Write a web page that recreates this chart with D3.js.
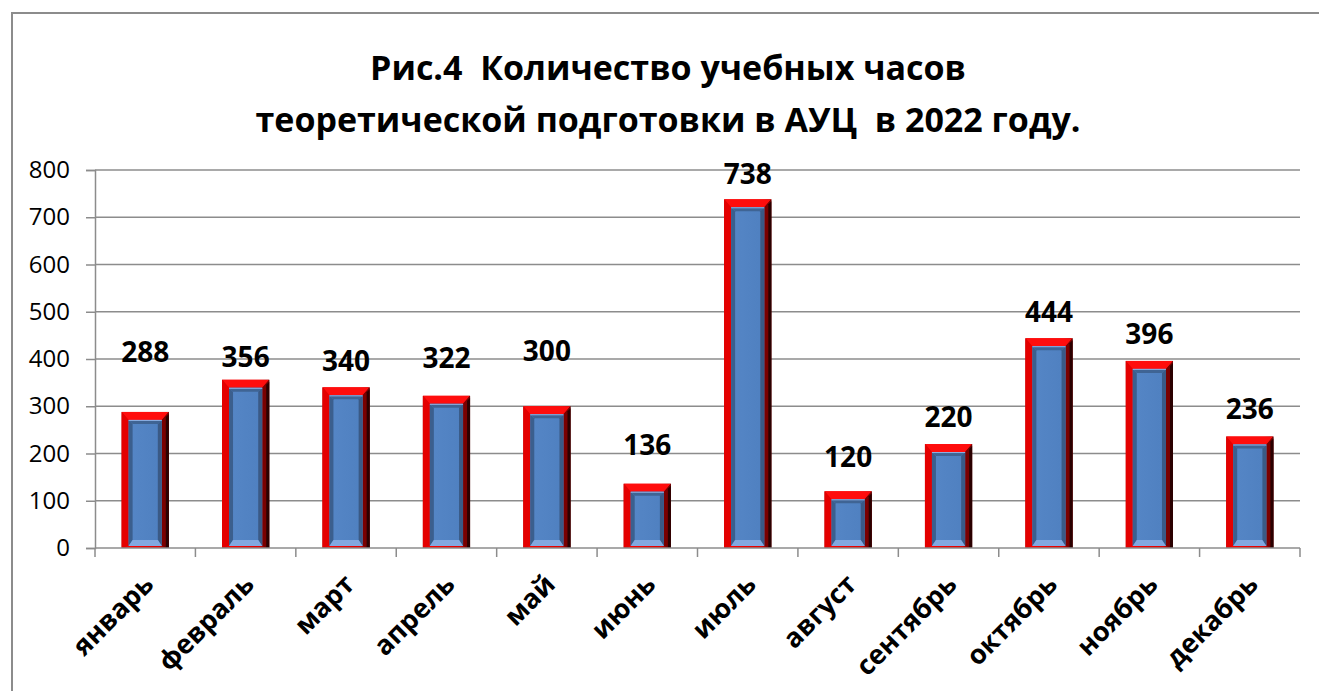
<!DOCTYPE html>
<html>
<head>
<meta charset="utf-8">
<script src="https://cdn.jsdelivr.net/npm/d3@7"></script>
<style>
  body { margin: 0; background: #fff; }
  text { font-family: "Open Sans", "Liberation Sans", sans-serif; white-space: pre; }
</style>
</head>
<body>
<div id="chart"></div>
<script>
const width = 1319, height = 691;

// data
const months = ["январь", "февраль", "март", "апрель", "май", "июнь",
  "июль", "август", "сентябрь", "октябрь", "ноябрь", "декабрь"];
const hours = [288, 356, 340, 322, 300, 136, 738, 120, 220, 444, 396, 236];
const yTicks = [0, 100, 200, 300, 400, 500, 600, 700, 800];
const titleLines = ["Рис.4  Количество учебных часов", "теоретической подготовки в АУЦ  в 2022 году."];

// how far each value label sits above its bar (px), labels were moved by hand in the original
const labelLift = [60, 23, 26, 38, 55, 39, 25, 34, 27, 26, 27, 27];

const plot = { left: 95, right: 1300, top: 170, bottom: 548 };

const svg = d3.select("#chart").append("svg")
  .attr("width", width)
  .attr("height", height);

const defs = svg.append("defs");

const redGrad = defs.append("linearGradient").attr("id", "redSide")
  .attr("x1", 0).attr("x2", 1).attr("y1", 0).attr("y2", 0);
redGrad.append("stop").attr("offset", "0%").attr("stop-color", "#b00000");
redGrad.append("stop").attr("offset", "12%").attr("stop-color", "#ff0000");
redGrad.append("stop").attr("offset", "80%").attr("stop-color", "#e00000");
redGrad.append("stop").attr("offset", "88%").attr("stop-color", "#a00000");
redGrad.append("stop").attr("offset", "100%").attr("stop-color", "#2a0000");

const blueGrad = defs.append("linearGradient").attr("id", "blueFace")
  .attr("x1", 0).attr("x2", 1).attr("y1", 0).attr("y2", 0);
blueGrad.append("stop").attr("offset", "0%").attr("stop-color", "#5586c6");
blueGrad.append("stop").attr("offset", "100%").attr("stop-color", "#4f80c0");

// outer frame of the chart
svg.append("rect")
  .attr("x", 12).attr("y", 13)
  .attr("width", 1320).attr("height", 700)
  .attr("fill", "none")
  .attr("stroke", "#8c8c8c")
  .attr("stroke-width", 2);

// title
svg.append("g").selectAll("text")
  .data(titleLines)
  .join("text")
  .attr("x", 668)
  .attr("y", (d, i) => 80 + i * 52)
  .attr("text-anchor", "middle")
  .attr("font-size", 34)
  .attr("font-weight", "bold")
  .attr("fill", "#000")
  .text(d => d);

// scales
const x = d3.scaleBand()
  .domain(months)
  .range([plot.left, plot.right])
  .paddingInner(0.53)
  .paddingOuter(0.265);

const xTicks = d3.scaleBand().domain(months).range([plot.left, plot.right]);

const y = d3.scaleLinear()
  .domain([0, 800])
  .range([plot.bottom, plot.top]);

// gridlines
svg.append("g")
  .selectAll("line")
  .data(yTicks.filter(d => d > 0))
  .join("line")
  .attr("x1", plot.left).attr("x2", plot.right)
  .attr("y1", d => y(d)).attr("y2", d => y(d))
  .attr("stroke", "#8c8c8c")
  .attr("stroke-width", 1.5);

// y axis
const yAxis = svg.append("g")
  .attr("transform", `translate(${plot.left},0)`)
  .call(d3.axisLeft(y).tickValues(yTicks).tickSize(9).tickPadding(16));
yAxis.select(".domain").attr("stroke", "#8c8c8c").attr("stroke-width", 1.5);
yAxis.selectAll(".tick line").attr("stroke", "#8c8c8c").attr("stroke-width", 1.5);
yAxis.selectAll(".tick text")
  .attr("font-size", 24)
  .attr("font-family", "'Open Sans', sans-serif")
  .attr("fill", "#000");

// bars
const bars = svg.append("g")
  .selectAll("g")
  .data(months.map((m, i) => ({ month: m, value: hours[i], lift: labelLift[i] })))
  .join("g");

const fw = 7, ft = 8, fb = 2; // frame thickness

bars.each(function (d) {
  const g = d3.select(this);
  const x0 = x(d.month), w = x.bandwidth();
  const y0 = y(d.value), y1 = y(0);
  const x1 = x0 + w;

  // red outer frame
  g.append("rect")
    .attr("x", x0).attr("y", y0)
    .attr("width", w).attr("height", y1 - y0)
    .attr("fill", "url(#redSide)");
  // top bevel
  g.append("polygon")
    .attr("points", [[x0, y0], [x1, y0], [x1 - fw, y0 + ft], [x0 + fw, y0 + ft]].join(" "))
    .attr("fill", "#ff0d0d");
  // left bevel
  g.append("polygon")
    .attr("points", [[x0, y0], [x0 + fw, y0 + ft], [x0 + fw, y1 - fb], [x0, y1]].join(" "))
    .attr("fill", "#e40000");
  // right bevel
  g.append("polygon")
    .attr("points", [[x1, y0], [x1 - fw, y0 + ft], [x1 - fw, y1 - fb], [x1, y1]].join(" "))
    .attr("fill", "#7a0000");
  g.append("polygon")
    .attr("points", [[x1, y0 + 2], [x1 - 3, y0 + 5], [x1 - 3, y1], [x1, y1]].join(" "))
    .attr("fill", "#2a0000");

  // blue inner face
  const ix0 = x0 + fw, ix1 = x1 - fw, iy0 = y0 + ft, iy1 = y1 - fb;
  const b = 4;
  g.append("rect")
    .attr("x", ix0).attr("y", iy0)
    .attr("width", ix1 - ix0).attr("height", Math.max(0, iy1 - iy0))
    .attr("fill", "url(#blueFace)");
  // inner bevels
  g.append("polygon")
    .attr("points", [[ix0, iy0], [ix1, iy0], [ix1 - b, iy0 + b], [ix0 + b, iy0 + b]].join(" "))
    .attr("fill", "#3f6494");
  g.append("polygon")
    .attr("points", [[ix0, iy0], [ix0 + b, iy0 + b], [ix0 + b, iy1 - 6], [ix0, iy1]].join(" "))
    .attr("fill", "#3b5f8e");
  g.append("polygon")
    .attr("points", [[ix1, iy0], [ix1 - b, iy0 + b], [ix1 - b, iy1 - 6], [ix1, iy1]].join(" "))
    .attr("fill", "#3a5a86");
  g.append("polygon")
    .attr("points", [[ix0, iy1], [ix1, iy1], [ix1 - b, iy1 - 6], [ix0 + b, iy1 - 6]].join(" "))
    .attr("fill", "#82a8e0");
  g.append("line")
    .attr("x1", ix0).attr("x2", ix1)
    .attr("y1", iy0 + 0.5).attr("y2", iy0 + 0.5)
    .attr("stroke", "#8fb2e6").attr("stroke-width", 1);

  // value label
  g.append("text")
    .attr("x", x0 + w / 2)
    .attr("y", y0 - d.lift + 10)
    .attr("text-anchor", "middle")
    .attr("font-size", 28)
    .attr("font-weight", "bold")
    .attr("fill", "#000")
    .text(d.value);
});

// x axis
const xAxis = svg.append("g")
  .attr("transform", `translate(0,${plot.bottom})`);
xAxis.append("line")
  .attr("x1", plot.left).attr("x2", plot.right)
  .attr("stroke", "#8c8c8c").attr("stroke-width", 1.5);
xAxis.selectAll(".tk")
  .data(months.concat(["end"]))
  .join("line")
  .attr("class", "tk")
  .attr("x1", (d, i) => i < months.length ? xTicks(d) : plot.right)
  .attr("x2", (d, i) => i < months.length ? xTicks(d) : plot.right)
  .attr("y1", 0).attr("y2", 9)
  .attr("stroke", "#8c8c8c").attr("stroke-width", 1.5);

xAxis.selectAll(".lbl")
  .data(months)
  .join("text")
  .attr("class", "lbl")
  .attr("transform", d => `translate(${xTicks(d) + xTicks.bandwidth() / 2 + 10},${38}) rotate(-45)`)
  .attr("text-anchor", "end")
  .attr("font-size", 27)
  .attr("font-weight", "bold")
  .attr("fill", "#000")
  .text(d => d);
</script>
</body>
</html>
